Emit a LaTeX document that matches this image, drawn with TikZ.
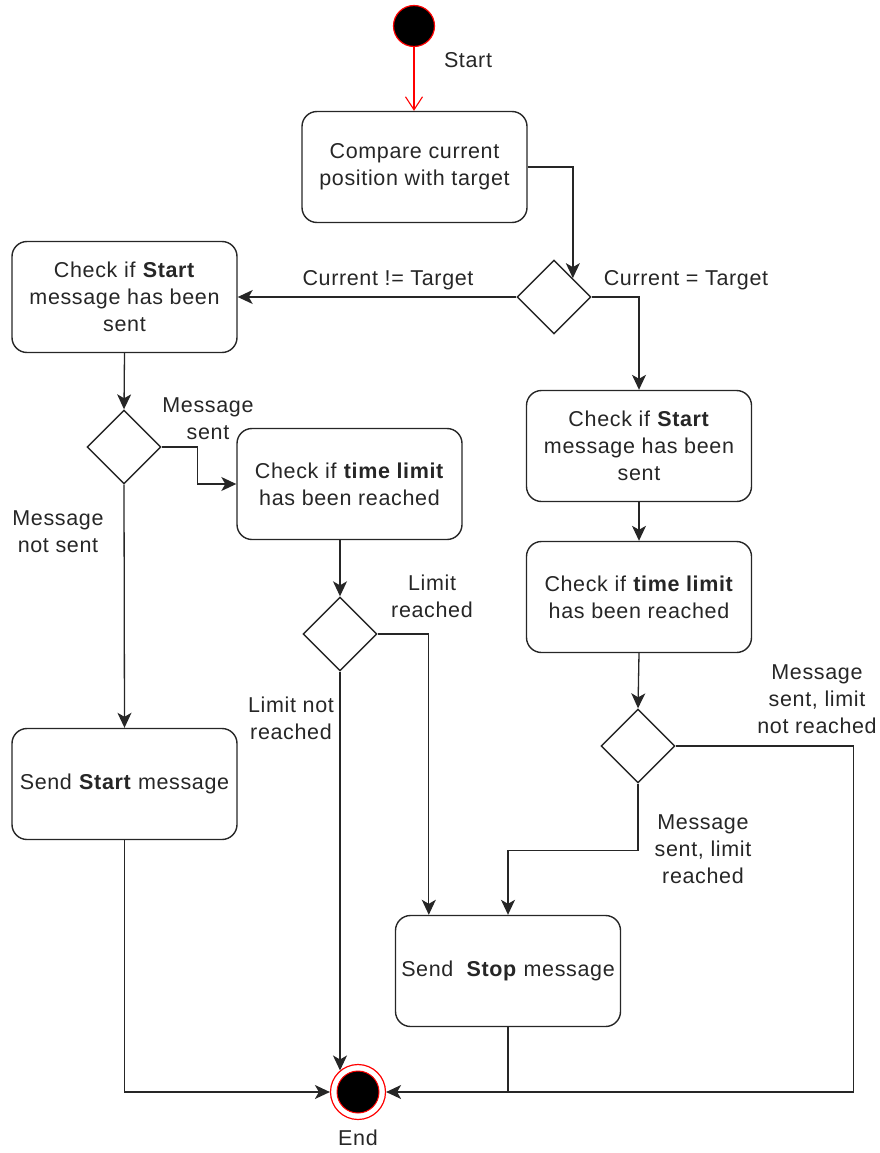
\documentclass[tikz,border=0pt]{standalone}
\usepackage{fontspec}
\setmainfont{Liberation Sans}[LetterSpace=3]
\usetikzlibrary{shapes.geometric,arrows.meta,calc}
\begin{document}
\begin{tikzpicture}[x=1pt,y=-1pt,
  every node/.style={font=\fontsize{21.5}{27}\selectfont, text=black!85},
  action/.style={draw=black!85, line width=1.4pt, rounded corners=15pt,
    minimum width=225pt, minimum height=111pt, align=center, inner sep=2pt},
  decision/.style={draw=black!85, line width=1.4pt, diamond, minimum width=74pt,
    minimum height=74pt, inner sep=0pt},
  lbl/.style={align=center, inner sep=0pt},
  flow/.style={draw=black!85, line width=1.3pt,
    -{Stealth[length=15pt,width=14pt,inset=4pt]}},
  plainline/.style={draw=black!85, line width=1.3pt}]
\useasboundingbox (0,0) rectangle (879,1153);

% initial and final states
\node[circle, fill=black, draw=red, line width=1.2pt, minimum size=41pt, inner sep=0pt] (start) at (414,26) {};
\node[lbl] (startlbl) at (468,60) {Start};
\node[circle, draw=red, line width=1.2pt, minimum size=55pt, inner sep=0pt] (end) at (358,1092) {};
\node[circle, fill=black, draw=red, line width=1pt, minimum size=42pt, inner sep=0pt] (endcore) at (358,1092) {};
\node[lbl] (endlbl) at (358,1138) {End};

% actions
\node[action] (cmp) at (414.5,167) {Compare current\\position with target};
\node[action] (chkL) at (124.5,297) {Check if \textbf{Start}\\message has been\\sent};
\node[action] (limL) at (349.5,484) {Check if \textbf{time limit}\\has been reached};
\node[action] (sendStart) at (124.5,784) {Send \textbf{Start} message};
\node[action] (chkR) at (639,446) {Check if \textbf{Start}\\message has been\\sent};
\node[action] (limR) at (639,597) {Check if \textbf{time limit}\\has been reached};
\node[action] (sendStop) at (508,971) {Send \ \textbf{Stop} message};

% decisions
\node[decision] (d1) at (554,297) {};
\node[decision] (d2) at (124,447) {};
\node[decision] (d3) at (340,634) {};
\node[decision] (d4) at (638,746) {};

% connectors
\draw[draw=red, line width=1.1pt, -{Straight Barb[length=13pt,width=17pt]}] (start) -- (cmp.north -| start);
\draw[flow] (cmp.east) -| (d1.north east);
\draw[flow] (d1.west) -- (chkL.east);
\draw[flow] (d1.east) -| (chkR.north);
\draw[flow] (chkL.south) -- (d2.north);
\draw[flow] (d2.east) -- ++(36,0) |- (limL.west);
\draw[flow] (d2.south) -- (sendStart.north);
\draw[flow] (limL.south -| d3.north) -- (d3.north);
\draw[flow] (d3.east) -| ($(sendStop.north west)+(34,0)$);
\draw[flow] (d3.south) -- (d3.south |- end.130);
\draw[flow] (sendStart.south) |- (end.west);
\draw[flow] (chkR.south) -- (limR.north);
\draw[flow] (limR.south) -- (d4.north);
\draw[flow] (d4.south) -- ++(0,67) -| (sendStop.north);
\draw[flow] (d4.east) -- ++(178,0) |- (end.east);
\draw[plainline] (sendStop.south) -- (sendStop.south |- end.east);

% guard labels
\node[lbl] (gNe) at (388,280) {Current != Target};
\node[lbl] (gEq) at (686,280) {Current = Target};
\node[lbl] (gSent) at (208,419) {Message\\sent};
\node[lbl] (gNotSent) at (58,532) {Message\\not sent};
\node[lbl] (gReached) at (432,596) {Limit\\reached};
\node[lbl] (gNotReached) at (291,718) {Limit not\\reached};
\node[lbl] (gSentNot) at (817,699) {Message\\sent, limit\\not reached};
\node[lbl] (gSentReached) at (703,849) {Message\\sent, limit\\reached};
\end{tikzpicture}
\end{document}
